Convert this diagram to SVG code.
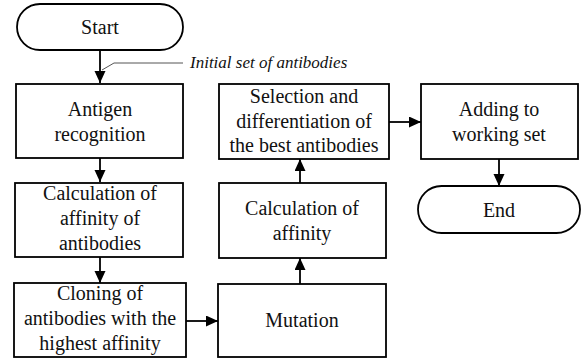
<svg xmlns="http://www.w3.org/2000/svg" width="582" height="360" viewBox="0 0 582 360">
<style>
.box{fill:#fff;stroke:#000;stroke-width:1.8}
.t{font-family:'Liberation Serif','Times New Roman',Times,serif;font-size:20px;fill:#111;text-anchor:middle}
.lbl{font-family:'Liberation Serif','Times New Roman',Times,serif;font-size:17px;font-style:italic;fill:#111}
.c{stroke:#000;stroke-width:1.8;fill:none;marker-end:url(#ah)}
</style>
<defs>
<marker id="ah" markerWidth="14" markerHeight="12" refX="12" refY="5.5" orient="auto" markerUnits="userSpaceOnUse">
<path d="M0,0 L12,5.5 L0,11 Z" fill="#000"/>
</marker>
</defs>
<rect width="582" height="360" fill="#fff"/>
<g id="connectors">
<path class="c" d="M100,50 V83"/>
<path class="c" d="M100,158 V182"/>
<path class="c" d="M100,257 V283"/>
<path class="c" d="M186,321 H218"/>
<path class="c" d="M300,284 V258"/>
<path class="c" d="M300,183 V159"/>
<path class="c" d="M389,122 H421"/>
<path class="c" d="M499,159 V186"/>
<path d="M102,70 L114,63 H183" stroke="#555" stroke-width="1" fill="none"/>
</g>
<g id="label"><text class="lbl" x="190" y="68">Initial set of antibodies</text></g>
<g id="start">
<rect class="box" x="17" y="4" width="166" height="46" rx="23"/>
<text class="t" x="100" y="34">Start</text>
</g>
<g id="antigen">
<rect class="box" x="16" y="84" width="167" height="74"/>
<text class="t" x="100" y="116">Antigen</text>
<text class="t" x="100" y="141">recognition</text>
</g>
<g id="calc1">
<rect class="box" x="15" y="183" width="168" height="74"/>
<text class="t" x="100" y="200">Calculation of</text>
<text class="t" x="100" y="225">affinity of</text>
<text class="t" x="100" y="250">antibodies</text>
</g>
<g id="cloning">
<rect class="box" x="14" y="283" width="172" height="74"/>
<text class="t" x="100" y="300">Cloning of</text>
<text class="t" x="100" y="325">antibodies with the</text>
<text class="t" x="100" y="350">highest affinity</text>
</g>
<g id="mutation">
<rect class="box" x="218" y="284" width="168" height="73"/>
<text class="t" x="302" y="327">Mutation</text>
</g>
<g id="calc2">
<rect class="box" x="219" y="183" width="167" height="75"/>
<text class="t" x="302" y="215">Calculation of</text>
<text class="t" x="302" y="240">affinity</text>
</g>
<g id="selection">
<rect class="box" x="219" y="84" width="170" height="75"/>
<text class="t" x="304" y="103">Selection and</text>
<text class="t" x="304" y="128">differentiation of</text>
<text class="t" x="304" y="152">the best antibodies</text>
</g>
<g id="adding">
<rect class="box" x="421" y="84" width="157" height="75"/>
<text class="t" x="499" y="116">Adding to</text>
<text class="t" x="499" y="141">working set</text>
</g>
<g id="end">
<rect class="box" x="418" y="186" width="162" height="47" rx="23.5"/>
<text class="t" x="499" y="217">End</text>
</g>
</svg>
